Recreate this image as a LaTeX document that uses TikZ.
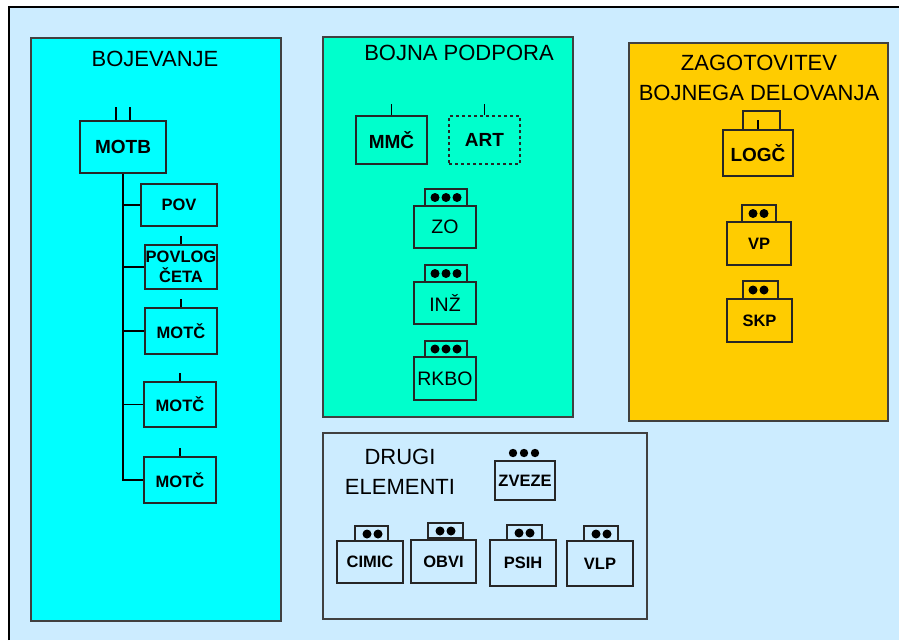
\documentclass[tikz,border=0pt]{standalone}
\usepackage{fontspec}
\setmainfont{Liberation Sans}
\definecolor{bgblue}{HTML}{CCECFF}
\definecolor{bojcyan}{HTML}{00FFFF}
\definecolor{podgreen}{HTML}{00FFCC}
\definecolor{zaggold}{HTML}{FFCC00}

\begin{document}
\begin{tikzpicture}[x=1pt,y=-1pt,
  cluster/.style={draw=black!75,line width=1.4pt},
  title/.style={font=\fontsize{22}{30}\selectfont,align=center},
  unit/.style={draw=black!85,line width=1.2pt,inner sep=0pt,align=center,
    font=\bfseries\fontsize{16.5}{20}\selectfont},
  bigunit/.style={unit,font=\bfseries\fontsize{19}{22}\selectfont},
  plainunit/.style={unit,font=\fontsize{19.5}{22}\selectfont},
  flag/.style={draw=black!85,line width=1.2pt}]
\useasboundingbox (0,0) rectangle (899,640);
% background and frame
\fill[white] (0,0) rectangle (899,640);
\fill[bgblue] (9,7) rectangle (899,640);
\draw[line width=2.6pt] (9,640) -- (9,7) -- (899,7);

% clusters
\filldraw[cluster,fill=bojcyan] (31,38) rectangle (281,621);
\filldraw[cluster,fill=podgreen] (323,37) rectangle (573,417);
\filldraw[cluster,fill=zaggold] (629,43) rectangle (888,421);
\filldraw[cluster,fill=bgblue] (323,433) rectangle (647,619);
\node[title] (tboj) at (155,59) {BOJEVANJE};
\node[title] (tpod) at (459,53) {BOJNA PODPORA};
\node[title] (tzag) at (759,78) {ZAGOTOVITEV\\BOJNEGA DELOVANJA};
\node[title] (tdru) at (400,472) {DRUGI\\ELEMENTI};

% BOJEVANJE
\node[bigunit,minimum width=86,minimum height=52] (motb) at (123,147) {MOTB};
\node[unit,minimum width=76,minimum height=42] (pov) at (179,205) {POV};
\node[unit,minimum width=72,minimum height=44] (povlog) at (181,267) {POVLOG\\ČETA};
\node[unit,minimum width=72,minimum height=46] (motc1) at (181,331) {MOTČ};
\node[unit,minimum width=72,minimum height=45] (motc2) at (180,404.5) {MOTČ};
\node[unit,minimum width=72,minimum height=46] (motc3) at (180,480) {MOTČ};
\draw[line width=1.2pt] (motb.north) ++(-7,0) -- ++(0,-13);
\draw[line width=1.2pt] (motb.north) ++(7,0) -- ++(0,-13);
\foreach \n in {povlog,motc1,motc2,motc3}
  \draw[line width=1.2pt] (\n.north) -- ++(0,-8);
\draw[line width=1.4pt] (motb.south) |- (motc3.west);
\foreach \n in {pov,povlog,motc1,motc2}
  \draw[line width=1.4pt] (motb.south |- \n.west) -- (\n.west);

% BOJNA PODPORA
\node[bigunit,minimum width=71,minimum height=48] (mmc) at (391.5,140) {MMČ};
\node[bigunit,dashed,minimum width=71,minimum height=48] (art) at (484.5,140) {ART};
\node[plainunit,minimum width=62,minimum height=42] (zo) at (445,227) {ZO};
\node[plainunit,minimum width=62,minimum height=42] (inz) at (445,303) {INŽ};
\node[plainunit,minimum width=62,minimum height=43] (rkbo) at (445,378.5) {RKBO};
\draw[line width=1.2pt] (mmc.north) -- ++(0,-11);
\draw[line width=1.2pt] (art.north) -- ++(0,-11);
\foreach \y/\h in {189/206,265/282,341/357}{
  \draw[flag] (425,\h) rectangle (467,\y);
  \foreach \x in {435,446,457}
    \fill (\x,{(\y+\h)/2}) circle (4.5);
}

% ZAGOTOVITEV BOJNEGA DELOVANJA
\node[bigunit,minimum width=70,minimum height=46] (logc) at (758,153) {LOGČ};
\node[unit,minimum width=64,minimum height=43] (vp) at (759,243.5) {VP};
\node[unit,minimum width=65,minimum height=43] (skp) at (759.5,320.5) {SKP};
\draw[flag] (743,130) -- (743,111) -- (780,111) -- (780,130);
\draw[line width=1.2pt] (logc.north) -- ++(0,-9);
\draw[flag] (742,222) rectangle (776,205);
\draw[flag] (743,299) rectangle (778,281);
\foreach \x in {753,764}{
  \fill (\x,213.5) circle (4.5);
  \fill (\x,290) circle (4.5);
}

% DRUGI ELEMENTI
\node[unit,minimum width=60,minimum height=39] (zveze) at (525,480.5) {ZVEZE};
\node[unit,minimum width=66,minimum height=42] (cimic) at (370,562) {CIMIC};
\node[unit,minimum width=65,minimum height=43] (obvi) at (443.5,561.5) {OBVI};
\node[unit,minimum width=66,minimum height=46] (psih) at (523,563) {PSIH};
\node[unit,minimum width=66,minimum height=45] (vlp) at (600,563.5) {VLP};
\foreach \x in {513,524,535}
  \fill (\x,453) circle (4.2);
\foreach \a/\b/\y in {355/388/526,428/463/523,507/542/525,584/618/526}{
  \draw[flag] (\a,\y) rectangle (\b,\y+15);
  \fill (\a+12,\y+8) circle (4.5);
  \fill (\a+23,\y+8) circle (4.5);
}
\end{tikzpicture}
\end{document}
